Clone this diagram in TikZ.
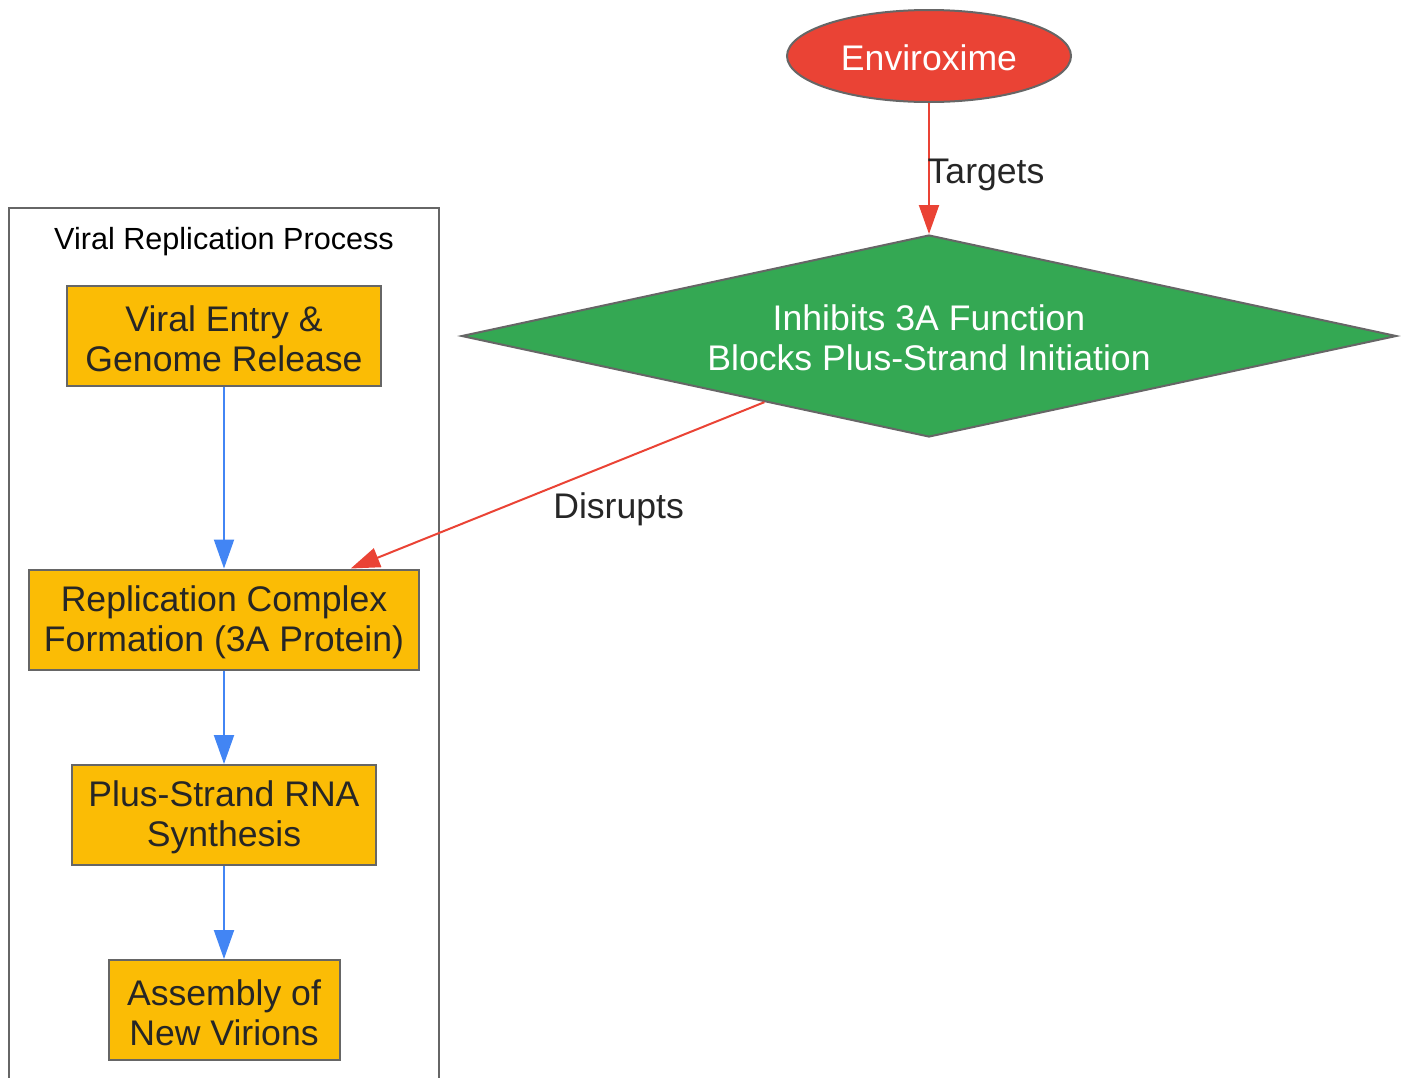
\documentclass[tikz,border=0pt]{standalone}
\usepackage{fontspec}
\setmainfont{Liberation Sans}
\usetikzlibrary{shapes.geometric,arrows.meta}
\definecolor{stepfill}{HTML}{FBBC05}
\definecolor{strokegray}{HTML}{666666}
\definecolor{envred}{HTML}{EA4335}
\definecolor{diagreen}{HTML}{34A853}
\definecolor{flowblue}{HTML}{4285F4}
\definecolor{txtdark}{HTML}{262626}
\tikzset{
  bigfont/.style={font=\fontsize{35.6}{40}\selectfont},
  steptext/.style={bigfont, text=txtdark, align=center, inner sep=0pt, yshift=-2.5pt},
  whitetext/.style={bigfont, text=white, align=center, inner sep=0pt, yshift=-2pt},
  stepbox/.style={draw=strokegray, line width=2pt, fill=stepfill,
    minimum height=100pt, inner sep=0pt},
  blueflow/.style={draw=flowblue, line width=2pt, -{Triangle[length=29pt,width=20pt]}},
  redflow/.style={draw=envred, line width=2pt, -{Triangle[length=29pt,width=20pt]}},
  edgelabel/.style={bigfont, text=txtdark, inner sep=0pt},
}
\begin{document}
\begin{tikzpicture}[x=1pt,y=-1pt]
\useasboundingbox (0,0) rectangle (1408,1077);
% cluster
\draw[strokegray, line width=2pt] (9,1080) -- (9,208) -- (439,208) -- (439,1080);
\node[font=\fontsize{30.6}{36}\selectfont, text=black, inner sep=0pt] (title) at (224,242) {Viral Replication Process};
% steps
\node[stepbox, minimum width=314pt, label={[steptext]center:{Viral Entry \&\\Genome Release}}] (entry) at (224,336) {};
\node[stepbox, minimum width=390pt, label={[steptext]center:{Replication Complex\\Formation (3A Protein)}}] (complex) at (224,619.5) {};
\node[stepbox, minimum width=304pt, label={[steptext]center:{Plus-Strand RNA\\Synthesis}}] (plus) at (224,815) {};
\node[stepbox, minimum width=231pt, label={[steptext]center:{Assembly of\\New Virions}}] (assembly) at (224,1010) {};
% drug
\node[ellipse, draw=strokegray, line width=2pt, fill=envred,
  minimum width=284pt, minimum height=92pt, inner sep=0pt,
  label={[whitetext]center:{Enviroxime}}] (env) at (929,56) {};
\node[diamond, draw=strokegray, line width=2pt, fill=diagreen,
  aspect=4.65, minimum width=935pt, minimum height=202pt, inner sep=0pt,
  label={[whitetext]center:{Inhibits 3A Function\\Blocks Plus-Strand Initiation}}] (dia) at (929,336) {};
% connectors
\draw[blueflow] (entry) -- (complex);
\draw[blueflow] (complex) -- (plus);
\draw[blueflow] (plus) -- (assembly);
\draw[redflow] (env) -- node[edgelabel, pos=0.5, xshift=57pt, yshift=-6.5pt] (lt) {Targets} (dia);
\draw[redflow] (dia) -- node[edgelabel, pos=0.5, xshift=61pt, yshift=-23.5pt] (ld) {Disrupts} (complex);
\end{tikzpicture}
\end{document}
